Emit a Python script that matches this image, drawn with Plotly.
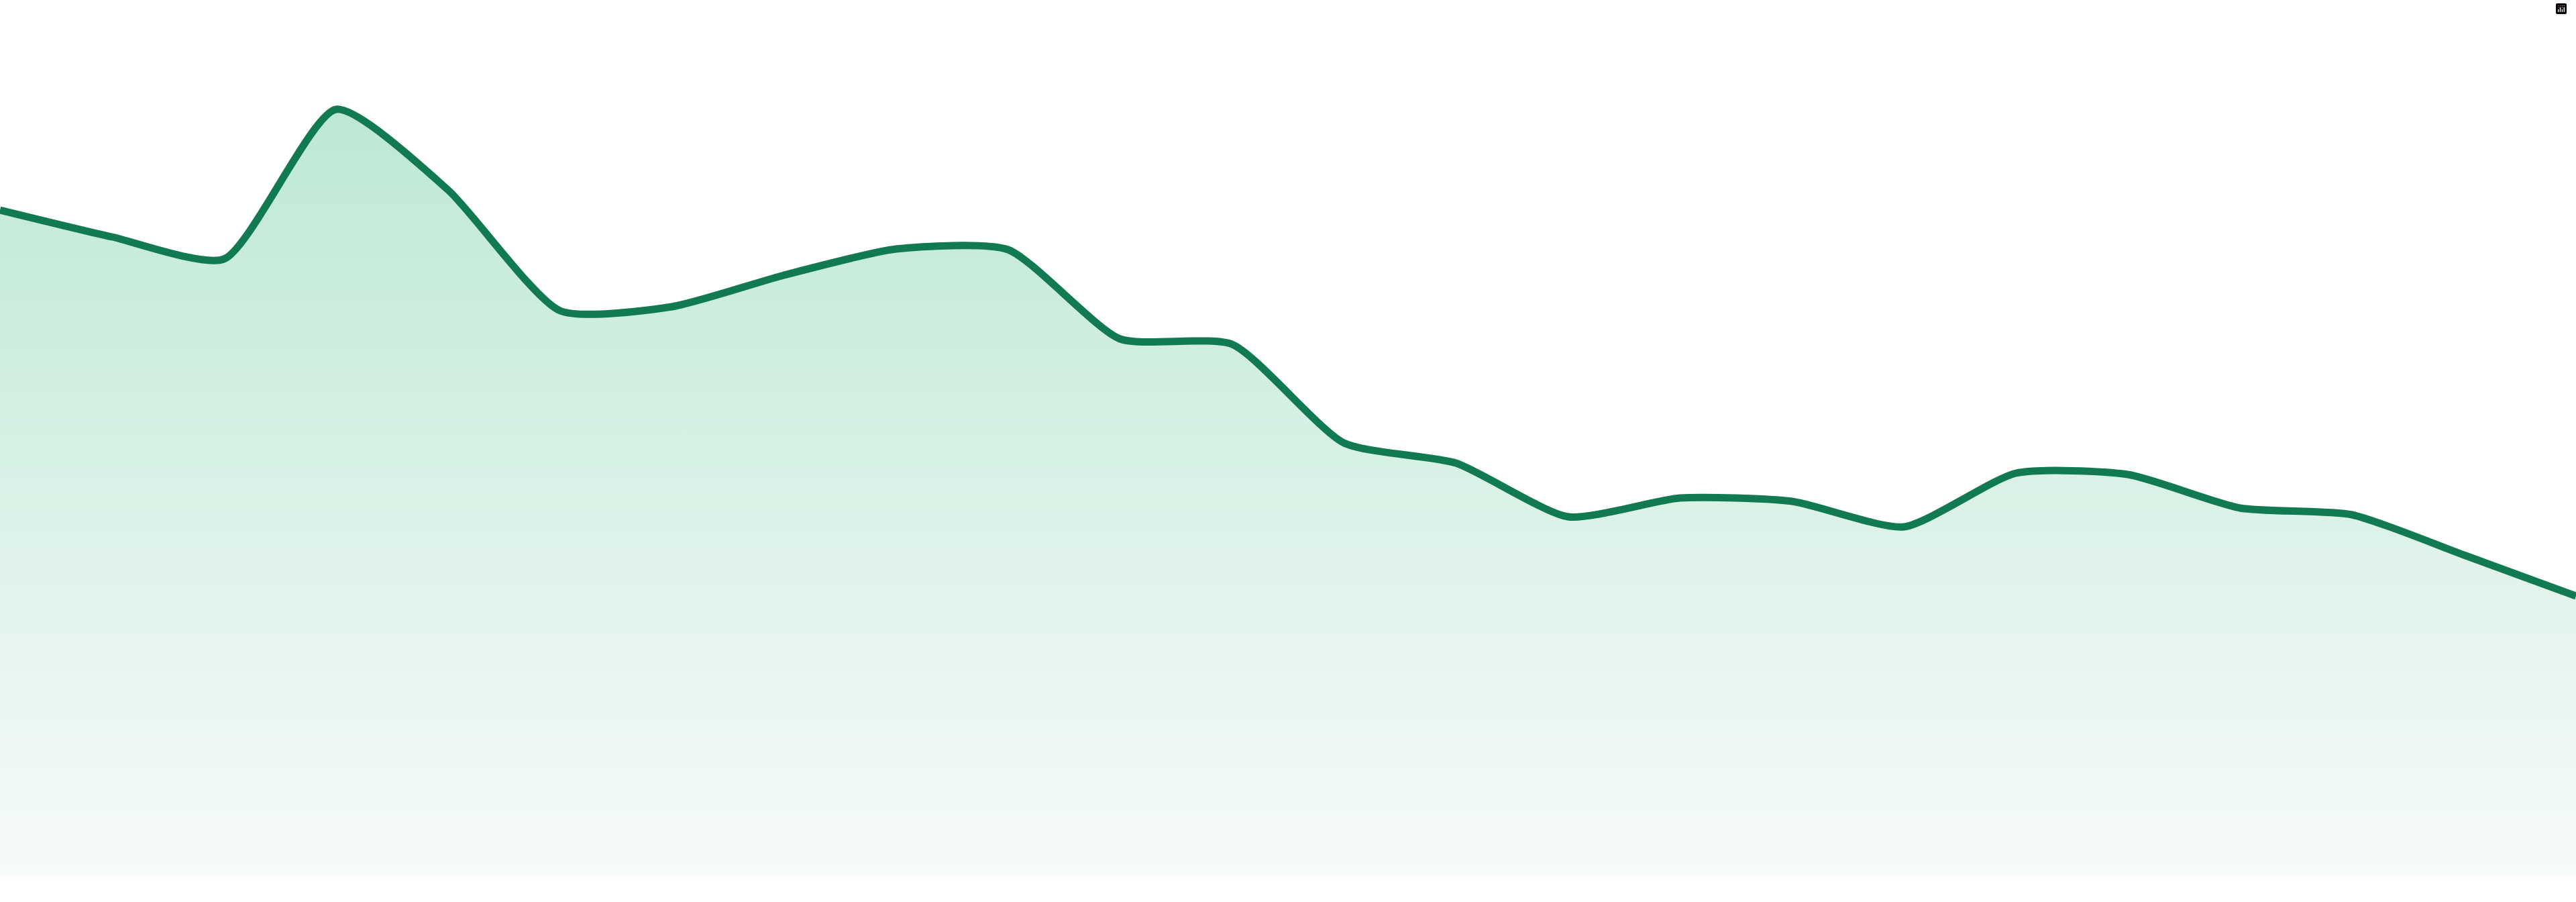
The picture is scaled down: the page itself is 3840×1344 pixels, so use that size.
import plotly.graph_objects as go

# daily index values (24 samples)
days = list(range(24))
values = [99.2, 95.2, 91.9, 114.2, 102.2, 84.2, 84.8, 89.5, 93.4, 93.3, 80.0, 79.2,
          64.5, 61.5, 53.5, 56.3, 55.8, 52.0, 60.0, 59.8, 54.8, 53.8, 47.8, 41.7]

line_color = '#127a50'

fig = go.Figure()
fig.add_trace(go.Scatter(
    x=days,
    y=values,
    mode='lines',
    line=dict(color=line_color, width=11, shape='spline', smoothing=0.6),
    fill='tozeroy',
    fillgradient=dict(
        type='vertical',
        start=0,
        stop=max(values),
        colorscale=[[0, '#f7fbf9'], [1, '#bde8d5']],
    ),
    hoverinfo='skip',
))

fig.update_layout(
    width=3840,
    height=1344,
    margin=dict(l=0, r=0, t=0, b=39),
    paper_bgcolor='white',
    plot_bgcolor='white',
    showlegend=False,
    # keep the modebar invisible without touching the config
    modebar=dict(bgcolor='rgba(0,0,0,0)', color='rgba(0,0,0,0)',
                 activecolor='rgba(0,0,0,0)', remove=['toImage', 'zoom', 'pan', 'select',
                                                       'lasso', 'zoomIn', 'zoomOut',
                                                       'autoScale', 'resetScale']),
    xaxis=dict(visible=False, range=[0, 23], fixedrange=True),
    yaxis=dict(visible=False, range=[0, 130.5], fixedrange=True),
)

# the page body has a default 8px margin; drop it so the chart sits flush
fig.write_html("out.html", post_script="document.body.style.margin = '0';")
